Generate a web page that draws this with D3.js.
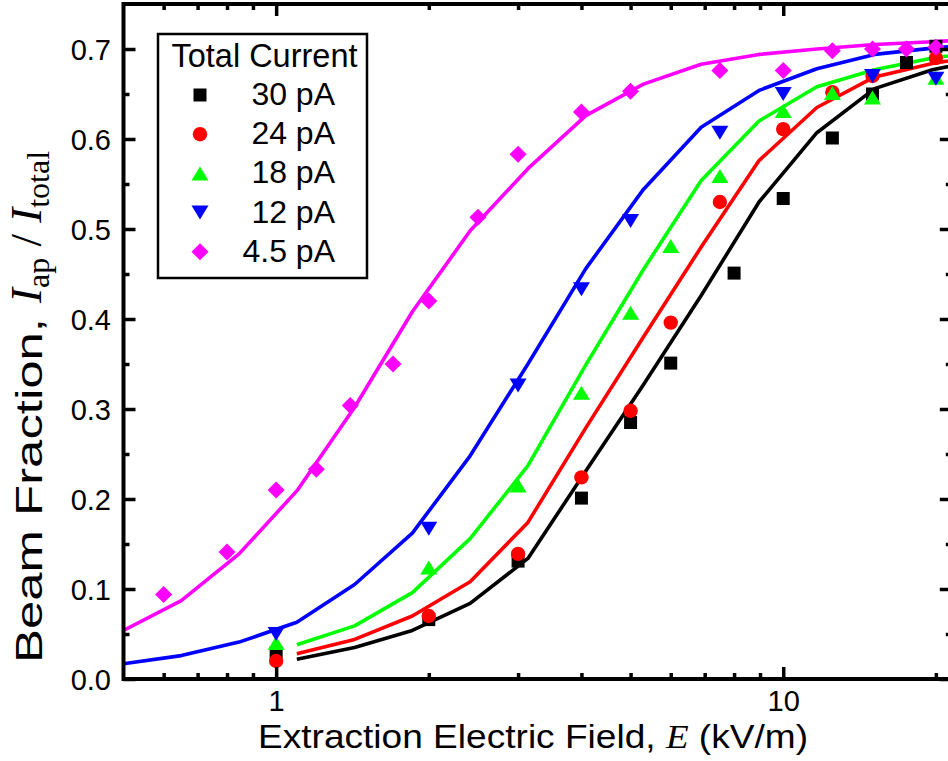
<!DOCTYPE html>
<html>
<head>
<meta charset="utf-8">
<script src="https://cdn.jsdelivr.net/npm/d3@7"></script>
<style>
  html, body { margin: 0; padding: 0; background: #fff; }
  svg { display: block; }
</style>
</head>
<body>
<svg id="chart" width="948" height="761"></svg>
<script>
// ---- Measured beam fraction vs. extraction field ----
const E30  = [1, 2, 3, 4, 5, 6, 8, 10, 12.5, 15, 17.5, 20];
const frac30 = [0.029, 0.066, 0.131, 0.201, 0.285, 0.351, 0.451, 0.534, 0.601, 0.650, 0.685, 0.703];

const E24  = [1, 2, 3, 4, 5, 6, 7.5, 10, 12.5, 15, 20];
const frac24 = [0.020, 0.070, 0.139, 0.224, 0.298, 0.396, 0.530, 0.611, 0.652, 0.670, 0.690];

const E18  = [1, 2, 3, 4, 5, 6, 7.5, 10, 12.5, 15, 20];
const frac18 = [0.040, 0.124, 0.215, 0.318, 0.407, 0.481, 0.559, 0.631, 0.651, 0.646, 0.668];

const E12  = [1, 2, 3, 4, 5, 7.5, 10, 15, 20];
const frac12 = [0.050, 0.167, 0.326, 0.433, 0.509, 0.607, 0.650, 0.670, 0.667];

const E4p5 = [0.6, 0.8, 1.0, 1.2, 1.4, 1.7, 2.0, 2.5, 3.0, 4.0, 5.0, 7.5, 10, 12.5, 15, 17.5, 20];
const frac4p5 = [0.094, 0.141, 0.210, 0.233, 0.304, 0.350, 0.420, 0.513, 0.583, 0.630, 0.653, 0.676, 0.676, 0.698, 0.700, 0.700, 0.702];

// ---- Model curves, sampled on a common field grid (null = not plotted) ----
const fitE = [0.5, 0.65, 0.845, 1.0985, 1.428, 1.856, 2.413, 3.137, 4.08, 5.30, 6.89, 8.96, 11.65, 15.14, 19.69, 25.6];
const fit30  = [null, null, null, 0.022, 0.035, 0.054, 0.084, 0.134, 0.231, 0.327, 0.426, 0.530, 0.607, 0.656, 0.677, 0.690];
const fit24  = [null, null, null, 0.028, 0.044, 0.070, 0.108, 0.174, 0.279, 0.380, 0.480, 0.576, 0.635, 0.669, 0.684, 0.694];
const fit18  = [null, null, null, 0.038, 0.059, 0.096, 0.156, 0.237, 0.349, 0.455, 0.554, 0.620, 0.658, 0.677, 0.690, 0.698];
const fit12  = [0.017, 0.026, 0.041, 0.063, 0.105, 0.162, 0.248, 0.350, 0.456, 0.544, 0.613, 0.654, 0.678, 0.694, 0.701, 0.706];
const fit4p5 = [0.054, 0.087, 0.139, 0.209, 0.302, 0.408, 0.498, 0.567, 0.626, 0.661, 0.683, 0.694, 0.700, 0.705, 0.708, 0.712];

// ---- Series labels, colours and axis ticks ----
const seriesLabels = ["30 pA", "24 pA", "18 pA", "12 pA", "4.5 pA"];
const seriesColors = ["#000000", "#ff0000", "#00ff00", "#0000ff", "#ff00ff"];
const seriesShapes = ["square", "circle", "triangleUp", "triangleDown", "diamond"];
const xMajorTicks = [1, 10];
const xMinorTicks = [0.6, 0.7, 0.8, 0.9, 2, 3, 4, 5, 6, 7, 8, 9, 20];
const yMajorTicks = [0.0, 0.1, 0.2, 0.3, 0.4, 0.5, 0.6, 0.7];
const yMinorTicks = [0.05, 0.15, 0.25, 0.35, 0.45, 0.55, 0.65];

const series = [
  { E: E30,  f: frac30,  fit: fit30 },
  { E: E24,  f: frac24,  fit: fit24 },
  { E: E18,  f: frac18,  fit: fit18 },
  { E: E12,  f: frac12,  fit: fit12 },
  { E: E4p5, f: frac4p5, fit: fit4p5 }
].map((s, i) => ({ ...s, label: seriesLabels[i], color: seriesColors[i], shape: seriesShapes[i] }));

// ---- Layout ----
const SANS = "'Liberation Sans', Arial, Helvetica, sans-serif";
const SERIF = "'Liberation Serif', 'Times New Roman', Times, serif";
const plot = { left: 123.5, right: 951.8, top: 4, bottom: 679 };

const svg = d3.select("#chart");
const x = d3.scaleLog().domain([0.5, 21.5]).range([plot.left, plot.right]);
const y = d3.scaleLinear().domain([0, 0.75]).range([plot.bottom, plot.top]);

svg.append("defs").append("clipPath").attr("id", "plot-clip")
  .append("rect")
  .attr("x", plot.left).attr("y", plot.top)
  .attr("width", plot.right - plot.left).attr("height", plot.bottom - plot.top);

// ---- Marker shapes ----
function markerPath(shape) {
  switch (shape) {
    case "square":       { const s = 13; return `M${-s/2},${-s/2}h${s}v${s}h${-s}Z`; }
    case "circle":       { const r = 7.2; return `M${r},0A${r},${r} 0 1,1 ${-r},0A${r},${r} 0 1,1 ${r},0Z`; }
    case "triangleUp":   { const w = 17, h = 14; return `M0,${-h/2}L${w/2},${h/2}L${-w/2},${h/2}Z`; }
    case "triangleDown": { const w = 17, h = 14; return `M0,${h/2}L${w/2},${-h/2}L${-w/2},${-h/2}Z`; }
    case "diamond":      { const d = 8.5; return `M0,${-d}L${d},0L0,${d}L${-d},0Z`; }
  }
}

// ---- Model curves ----
const line = d3.line()
  .defined(d => d[1] !== null)
  .x(d => x(d[0]))
  .y(d => y(d[1]));

const curves = svg.append("g").attr("clip-path", "url(#plot-clip)");
series.forEach(s => {
  curves.append("path")
    .datum(fitE.map((e, i) => [e, s.fit[i]]))
    .attr("d", line)
    .attr("fill", "none")
    .attr("stroke", s.color)
    .attr("stroke-width", 3.6)
    .attr("stroke-linejoin", "round");
});

// ---- Data points ----
const pts = svg.append("g").attr("clip-path", "url(#plot-clip)");
series.forEach(s => {
  pts.append("g").selectAll("path")
    .data(s.E.map((e, i) => [e, s.f[i]]))
    .join("path")
    .attr("transform", d => `translate(${x(d[0])},${y(d[1])})`)
    .attr("d", markerPath(s.shape))
    .attr("fill", s.color);
});

// ---- Axes (ticks point inward on all four sides) ----
function styleAxis(g) {
  g.select(".domain").remove();
  g.selectAll(".tick line").attr("stroke", "#000").attr("stroke-width", 3.5);
  g.selectAll("text").attr("fill", "#000").attr("font-family", SANS).attr("font-size", 29);
}

// bottom
svg.append("g").attr("transform", `translate(0,${plot.bottom})`)
  .call(d3.axisBottom(x).tickValues(xMajorTicks).tickSize(-12).tickSizeOuter(0).tickFormat(d3.format("d")))
  .call(styleAxis)
  .call(g => g.selectAll("text").attr("y", 32).attr("dy", 0));
svg.append("g").attr("transform", `translate(0,${plot.bottom})`)
  .call(d3.axisBottom(x).tickValues(xMinorTicks).tickSize(-6).tickSizeOuter(0).tickFormat(""))
  .call(styleAxis);

// top
svg.append("g").attr("transform", `translate(0,${plot.top})`)
  .call(d3.axisTop(x).tickValues(xMajorTicks).tickSize(-12).tickSizeOuter(0).tickFormat(""))
  .call(styleAxis);
svg.append("g").attr("transform", `translate(0,${plot.top})`)
  .call(d3.axisTop(x).tickValues(xMinorTicks).tickSize(-6).tickSizeOuter(0).tickFormat(""))
  .call(styleAxis);

// left
svg.append("g").attr("transform", `translate(${plot.left},0)`)
  .call(d3.axisLeft(y).tickValues(yMajorTicks).tickSize(-12).tickSizeOuter(0).tickFormat(d3.format(".1f")))
  .call(styleAxis)
  .call(g => g.selectAll("text").attr("x", -12.5).attr("dy", "0.36em"));
svg.append("g").attr("transform", `translate(${plot.left},0)`)
  .call(d3.axisLeft(y).tickValues(yMinorTicks).tickSize(-6).tickSizeOuter(0).tickFormat(""))
  .call(styleAxis);

// right
svg.append("g").attr("transform", `translate(${plot.right},0)`)
  .call(d3.axisRight(y).tickValues(yMajorTicks).tickSize(-12).tickSizeOuter(0).tickFormat(""))
  .call(styleAxis);
svg.append("g").attr("transform", `translate(${plot.right},0)`)
  .call(d3.axisRight(y).tickValues(yMinorTicks).tickSize(-6).tickSizeOuter(0).tickFormat(""))
  .call(styleAxis);

// frame
svg.append("rect")
  .attr("x", plot.left).attr("y", plot.top)
  .attr("width", plot.right - plot.left).attr("height", plot.bottom - plot.top)
  .attr("fill", "none").attr("stroke", "#000").attr("stroke-width", 4);

// ---- Axis titles ----
const xTitle = svg.append("text")
  .attr("x", 258).attr("y", 748)
  .attr("font-family", SANS).attr("font-size", 34)
  .attr("textLength", 550).attr("lengthAdjust", "spacingAndGlyphs")
  .attr("fill", "#000");
xTitle.append("tspan").text("Extraction Electric Field, ");
xTitle.append("tspan").attr("font-family", SERIF).attr("font-style", "italic").text("E");
xTitle.append("tspan").text(" (kV/m)");

// y title: sans words, then the current ratio set in serif
svg.append("text")
  .attr("transform", "translate(42,663) rotate(-90)")
  .attr("font-family", SANS).attr("font-size", 37)
  .attr("textLength", 345).attr("lengthAdjust", "spacingAndGlyphs")
  .attr("fill", "#000")
  .text("Beam Fraction,");
const yRatio = svg.append("text")
  .attr("transform", "translate(41,303) rotate(-90)")
  .attr("font-family", SERIF).attr("font-size", 45).attr("fill", "#000");
yRatio.append("tspan").attr("font-style", "italic").text("I");
yRatio.append("tspan").attr("font-size", 32).attr("dy", 8).text("ap");
yRatio.append("tspan").attr("dy", -8).text(" / ");
yRatio.append("tspan").attr("font-style", "italic").text("I");
yRatio.append("tspan").attr("font-size", 32).attr("dy", 8).text("total");

// ---- Legend ----
const legend = svg.append("g");
legend.append("rect")
  .attr("x", 158).attr("y", 34).attr("width", 209).attr("height", 244)
  .attr("fill", "#fff").attr("stroke", "#000").attr("stroke-width", 2.5);
legend.append("text")
  .attr("x", 264.5).attr("y", 67).attr("text-anchor", "middle")
  .attr("font-family", SANS).attr("font-size", 32.5).attr("fill", "#000")
  .text("Total Current");
series.forEach((s, i) => {
  const base = 105 + i * 39.2;
  legend.append("path")
    .attr("transform", `translate(200,${base - 10})`)
    .attr("d", markerPath(s.shape))
    .attr("fill", s.color);
  legend.append("text")
    .attr("x", 335).attr("y", base).attr("text-anchor", "end")
    .attr("font-family", SANS).attr("font-size", 32).attr("fill", "#000")
    .text(s.label);
});
</script>
</body>
</html>
